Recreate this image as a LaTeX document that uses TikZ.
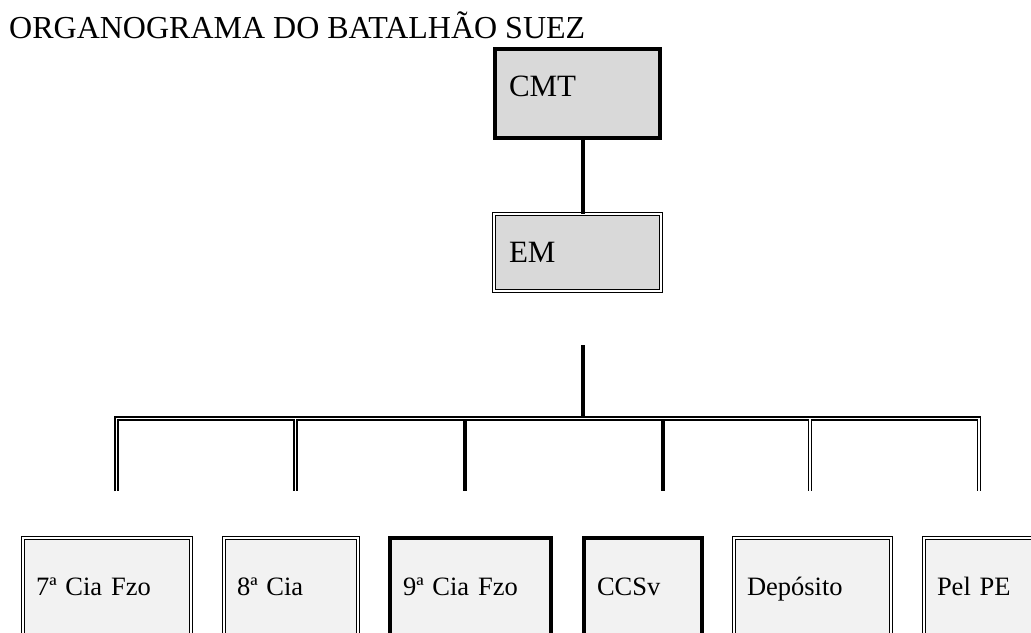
\documentclass[tikz,border=0pt]{standalone}
\usepackage{fontspec}
\setmainfont{Liberation Serif}
\definecolor{topgray}{HTML}{D9D9D9}
\definecolor{botgray}{HTML}{F2F2F2}
\begin{document}
\begin{tikzpicture}[x=1pt,y=-1pt,
  topbox/.style={draw=black, fill=topgray, anchor=north west, inner ysep=0pt,
    outer sep=0pt, align=left, font=\fontsize{31}{36}\selectfont},
  botbox/.style={draw=black, fill=botgray, anchor=north west, inner ysep=0pt,
    outer sep=0pt, inner xsep=13pt, align=left, text height=57pt, text depth=50pt,
    font=\fontsize{26.5}{30}\selectfont},
  dblborder/.style={double=white, double distance=1.3pt, line width=1.5pt},
  sglborder/.style={line width=4pt},
  thickline/.style={line width=4pt},
  busblack/.style={line width=4.5pt, line join=miter},
  buswhite/.style={white, line width=1.5pt, line join=miter}]
\useasboundingbox (0,0) rectangle (1031,632);
\clip (0,0) rectangle (1031,632);

% title
\node[anchor=base west, inner sep=0pt, font=\fontsize{32}{36}\selectfont] (title) at (9,38) {ORGANOGRAMA DO BATALHÃO SUEZ};

% top boxes
\node[topbox, sglborder, inner xsep=14pt, text width=137pt, text height=47pt, text depth=42pt] (cmt) at (495,49) {CMT};
\node[topbox, double=white, double distance=1.2pt, line width=1.6pt, inner xsep=15pt, text width=137pt, text height=48pt, text depth=29pt] (em) at (494,214) {EM};

% bottom boxes
\node[botbox, dblborder, text width=142pt] (c7) at (23,538) {7ª Cia Fzo};
\node[botbox, dblborder, text width=108pt] (c8) at (224,538) {8ª Cia};
\node[botbox, sglborder, text width=135pt] (c9) at (390,538) {9ª Cia Fzo};
\node[botbox, sglborder, text width=92pt] (ccsv) at (584,538) {CCSv};
\node[botbox, dblborder, text width=131pt] (dep) at (734,538) {Depósito};
\node[botbox, dblborder, text width=93pt] (pel) at (924,538) {Pel PE};

% connector CMT - EM
\coordinate (spine) at (583,0);
\draw[thickline] (cmt.south -| spine) -- (em.north -| spine);

% stub above the bus
\coordinate (stubtop) at (583,345);
\coordinate (stubbot) at (583,417);
\draw[thickline] (stubtop) -- (stubbot);

% bus coordinates
\coordinate (busL) at (116.25,418.5);
\coordinate (busR) at (978.75,418.5);
\coordinate (dropA) at (116.25,491);
\coordinate (dropF) at (978.75,491);
\coordinate (bus2) at (295.3,418.5);
\coordinate (drop2) at (295.3,491);
\coordinate (bus5) at (810,418.5);
\coordinate (drop5) at (810,491);
\coordinate (bus3) at (465.3,420);
\coordinate (drop3) at (465.3,491);
\coordinate (bus4) at (663,420);
\coordinate (drop4) at (663,491);

% double-line bus (two passes so junctions merge)
\draw[busblack] (dropA) -- (busL) -- (busR) -- (dropF);
\draw[busblack] (bus2) -- (drop2);
\draw[busblack] (bus5) -- (drop5);
\draw[buswhite] (dropA) -- (busL) -- (busR) -- (dropF);
\draw[buswhite] (bus2) -- (drop2);
\draw[buswhite] (bus5) -- (drop5);

% single thick drops
\draw[thickline] (bus3) -- (drop3);
\draw[thickline] (bus4) -- (drop4);
\end{tikzpicture}
\end{document}
